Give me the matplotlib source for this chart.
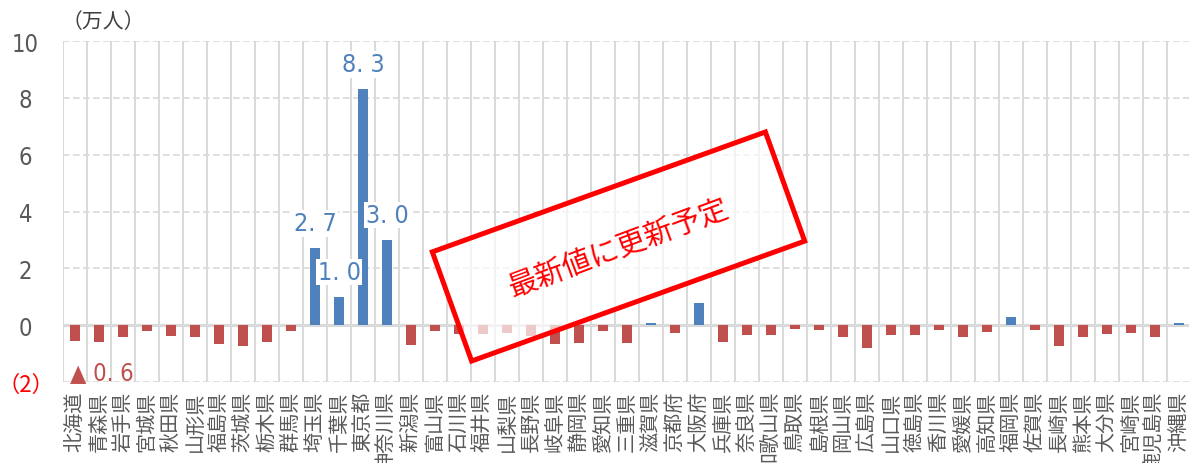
import matplotlib
matplotlib.use('Agg')
import matplotlib.pyplot as plt
from matplotlib.patches import Rectangle
from matplotlib.transforms import Affine2D

prefectures = ['北海道', '青森県', '岩手県', '宮城県', '秋田県', '山形県', '福島県',
               '茨城県', '栃木県', '群馬県', '埼玉県', '千葉県', '東京都', '神奈川県',
               '新潟県', '富山県', '石川県', '福井県', '山梨県', '長野県', '岐阜県',
               '静岡県', '愛知県', '三重県', '滋賀県', '京都府', '大阪府', '兵庫県',
               '奈良県', '和歌山県', '鳥取県', '島根県', '岡山県', '広島県', '山口県',
               '徳島県', '香川県', '愛媛県', '高知県', '福岡県', '佐賀県', '長崎県',
               '熊本県', '大分県', '宮崎県', '鹿児島県', '沖縄県']
values = [-0.57, -0.59, -0.43, -0.19, -0.39, -0.41, -0.68,
          -0.75, -0.58, -0.22, 2.7, 1.0, 8.3, 3.0,
          -0.69, -0.21, -0.30, -0.30, -0.27, -0.37, -0.68,
          -0.61, -0.20, -0.62, 0.07, -0.28, 0.78, -0.60,
          -0.35, -0.34, -0.14, -0.17, -0.40, -0.81, -0.36,
          -0.33, -0.17, -0.43, -0.24, 0.30, -0.18, -0.74,
          -0.40, -0.30, -0.27, -0.42, 0.06]
labelled = {'埼玉県': '2. 7', '千葉県': '1. 0', '東京都': '8. 3', '神奈川県': '3. 0'}
yticks = [-2, 0, 2, 4, 6, 8, 10]
yticklabels = ['（2）', '0', '2', '4', '6', '8', '10']

W, H = 1189, 464
fig = plt.figure(figsize=(W / 100, H / 100), dpi=100)
ax = fig.add_axes([63 / W, 1 - 383 / H, 1128 / W, 341 / H])

gray = '#D9D9D9'
blue = '#4F81BD'
red = '#C0504D'
text_gray = '#595959'

x = list(range(len(prefectures)))
colors = [blue if v >= 0 else red for v in values]
ax.bar(x, values, width=0.42, color=colors, zorder=3)

# grid
for b in range(len(prefectures) + 1):
    ax.axvline(b - 0.5, color=gray, lw=1.4, zorder=1)
for t in [-2, 2, 4, 6, 8, 10]:
    ax.axhline(t, color=gray, lw=1.2, ls=(0, (4, 2)), zorder=1)
ax.axhline(0, color=gray, lw=2.2, zorder=2)

ax.set_xlim(-0.5, len(prefectures) - 0.5)
ax.set_ylim(-2, 10)
for s in ax.spines.values():
    s.set_visible(False)

ax.set_xticks(x)
ax.set_xticklabels(prefectures, rotation=90, va='top', ha='center',
                   fontsize=14.5, color=text_gray, family='Noto Sans CJK JP')
ax.tick_params(axis='x', length=0, pad=6)

ax.set_yticks(yticks)
ax.set_yticklabels(yticklabels)
ax.tick_params(axis='y', length=0, pad=27)
for lab in ax.get_yticklabels():
    lab.set_horizontalalignment('center')
    lab.set_fontsize(17)
    lab.set_color(text_gray)
    lab.set_family('DejaVu Sans')
    lab.set_fontstretch('condensed')
neg = ax.get_yticklabels()[0]
neg.set_color('#FF0000')
neg.set_family('Noto Sans CJK JP')
neg.set_fontsize(16)

# data labels
for name, txt in labelled.items():
    i = prefectures.index(name)
    ax.annotate(txt, (i, values[i]), xytext=(0, 18), textcoords='offset points',
                ha='center', va='center', fontsize=18, color=blue,
                family='DejaVu Sans', fontstretch='condensed', zorder=4,
                bbox=dict(boxstyle='square,pad=0.05', fc='white', ec='none'))
ax.annotate('▲ 0. 6', (0, values[0]), xytext=(19, -22), textcoords='offset points',
            ha='center', va='center', fontsize=17, color=red,
            family='DejaVu Sans', fontstretch='condensed', zorder=4)

fig.text(103 / W, 1 - 22 / H, '（万人）', ha='center', va='center',
         fontsize=15, color='#404040', family='Noto Sans CJK JP')

# stamp
tr = Affine2D().rotate_deg(19.8).translate(618.5, H - 247.5)
stamp = Rectangle((-177, -58), 354, 116, transform=tr, fc=(1, 1, 1, 0.7),
                  ec='#FF0000', lw=3.6, zorder=10)
fig.add_artist(stamp)
fig.text(619 / W, 1 - 249 / H, '最新値に更新予定', rotation=20.5,
         rotation_mode='anchor', ha='center', va='center', fontsize=21,
         color='#FF0000', family='Noto Sans CJK JP', zorder=11)

fig.savefig('out.png', dpi=100)
